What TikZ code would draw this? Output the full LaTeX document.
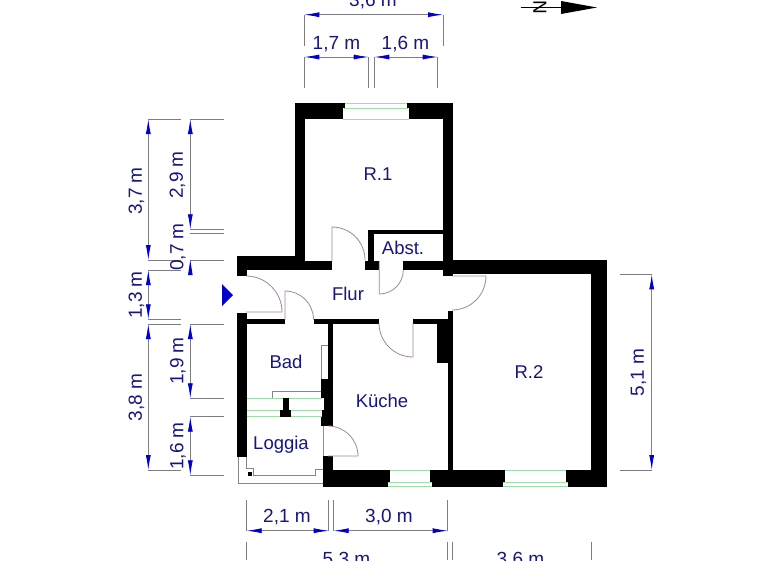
\documentclass[tikz,border=0pt]{standalone}
\usepackage{fontspec}
\setmainfont{Liberation Sans}
\usetikzlibrary{arrows.meta}
\definecolor{txt}{RGB}{22,22,125}
\definecolor{tip}{RGB}{0,0,205}
\definecolor{dimgrey}{RGB}{125,125,130}
\definecolor{doorc}{RGB}{160,135,160}
\definecolor{glass}{RGB}{160,220,170}
\definecolor{outl}{RGB}{135,135,135}
\tikzset{
  x=1pt,y=-1pt,
  wall/.style={fill=black,draw=none},
  doorline/.style={draw=doorc,line width=0.8pt},
  pane/.style={fill=white,draw=none},
  glassline/.style={draw=glass,line width=1pt},
  outline/.style={draw=outl,line width=0.8pt},
  ext/.style={draw=dimgrey,line width=0.8pt},
  dimline/.style={draw=dimgrey,line width=0.8pt,
    {Latex[length=15pt,width=5pt,color=tip]}-{Latex[length=15pt,width=5pt,color=tip]}},
  room/.style={text=txt,font=\fontsize{18.5}{18.5}\selectfont,inner sep=0pt},
  dimtext/.style={text=txt,font=\fontsize{19}{19}\selectfont,inner sep=0pt},
}
\newcommand{\hdimension}[5]{%
  \draw[ext] (#1,#4) -- (#1,#3);
  \draw[ext] (#2,#4) -- (#2,#3);
  \draw[dimline] (#1,#3) -- (#2,#3);
}
\newcommand{\vdimension}[4]{%
  \draw[ext] (#3,#1) -- (#4,#1);
  \draw[ext] (#3,#2) -- (#4,#2);
  \draw[dimline] (#3,#1) -- (#3,#2);
}
\begin{document}
\begin{tikzpicture}
\useasboundingbox (0,0) rectangle (768,560);
\clip (0,0) rectangle (768,560);
\fill[white] (0,0) rectangle (768,560);

% walls
\fill[wall] (295,103) rectangle (453,119);
\fill[wall] (295,103) rectangle (304.5,270);
\fill[wall] (442.7,103) rectangle (452.7,276);
\fill[wall] (237,256) rectangle (304.5,270);
\fill[wall] (237,256) rectangle (246.7,276);
\fill[wall] (304,260.7) rectangle (332,270);
\fill[wall] (365,260.7) rectangle (379.3,270);
\fill[wall] (368,230) rectangle (374,261);
\fill[wall] (368,230) rectangle (443,234);
\fill[wall] (403.3,260.7) rectangle (452,270);
\fill[wall] (447.7,260) rectangle (607,274);
\fill[wall] (591,260) rectangle (607,486.5);
\fill[wall] (447.7,310.5) rectangle (452.7,471);
\fill[wall] (413,319) rectangle (448,324.3);
\fill[wall] (437,319) rectangle (448,362.7);
\fill[wall] (237,312.7) rectangle (246.7,456.7);
\fill[wall] (246,319) rectangle (285,324.3);
\fill[wall] (313.5,319) rectangle (379,324.3);
\fill[wall] (328.3,324) rectangle (333.3,380);
\fill[wall] (321,379) rectangle (333.3,425.7);
\fill[wall] (323.3,456) rectangle (333.3,471);
\fill[wall] (323.3,470) rectangle (607,486.5);
\fill[wall] (282.7,398) rectangle (289,411);
\fill[wall] (280.3,410) rectangle (291,416.7);
\fill[wall] (248.3,472) rectangle (252.3,476);

% window R.1
\fill[pane] (345,103) rectangle (407,108.3);
\fill[pane] (342.7,108.3) rectangle (409,119);
\draw[glassline] (345,103.5) -- (407,103.5);
\draw[glassline] (344,108.3) -- (408,108.3);
\draw[glassline] (342.7,119) -- (409,119);
% window Kueche
\fill[pane] (390,470) rectangle (430,482.5);
\fill[pane] (388,482.5) rectangle (432,486.5);
\draw[glassline] (390,470) -- (430,470);
\draw[glassline] (388,482.7) -- (432,482.7);
\draw[glassline] (388,486.2) -- (432,486.2);
% window R.2
\fill[pane] (505,470) rectangle (565.7,482.5);
\fill[pane] (503,482.5) rectangle (567.7,486.5);
\draw[glassline] (505,470) -- (565.7,470);
\draw[glassline] (503,482.7) -- (567.7,482.7);
\draw[glassline] (503,486.2) -- (567.7,486.2);
% window Bad / Loggia
\fill[pane] (246.7,398) rectangle (282.7,410);
\fill[pane] (289,398) rectangle (324,410);
\fill[pane] (249,410) rectangle (280.3,416.7);
\fill[pane] (291,410) rectangle (322,416.7);
\draw[glassline] (247,398) -- (282.7,398) (289,398) -- (322,398);
\draw[glassline] (247,410) -- (280.3,410) (291,410) -- (322,410);
\draw[glassline] (247,416.3) -- (280.3,416.3) (291,416.3) -- (322,416.3);

% grey outlines
\draw[outline] (272.3,398) -- (272.3,391.3) -- (321,391.3);
\draw[outline] (321,379) -- (321,345) -- (328,345);
\draw[outline] (238.3,456.7) -- (238.3,483.3) -- (323.3,483.3);
\draw[outline] (246,456.7) -- (246,468) -- (253.3,468) -- (253.3,475.7) -- (315,475.7) -- (315,469) -- (323.3,469);
\draw[doorline] (323,425.7) -- (323,456);

% doors
\draw[doorline] (452,276) -- (486,276) arc[start angle=0,end angle=-90,radius=34pt];
\draw[doorline] (246,312) -- (282,312) arc[start angle=0,end angle=90,radius=36pt];
\draw[doorline] (285,320) -- (285,291) arc[start angle=90,end angle=0,radius=28.5pt];
\draw[doorline] (413,323) -- (413,357) arc[start angle=-90,end angle=-180,radius=34pt];
\draw[doorline] (379.3,261) -- (379.3,294) arc[start angle=-90,end angle=0,radius=24pt];
\draw[doorline] (332,261) -- (332,227) arc[start angle=90,end angle=0,radius=33pt];
\draw[doorline] (328,456) -- (358,456) arc[start angle=0,end angle=90,radius=30pt];

% entry marker
\fill[tip] (222,284) -- (233,295) -- (222,306) -- cycle;

% room labels
\node[room] (r1) at (378,174) {R.1};
\node[room] (abst) at (403,247.5) {Abst.};
\node[room] (flur) at (348,293.5) {Flur};
\node[room] (bad) at (286,361.5) {Bad};
\node[room] (kueche) at (382,400.5) {Küche};
\node[room] (loggia) at (281,444.5) {Loggia};
\node[room] (r2) at (529,372.5) {R.2};

% top dimensions
\hdimension{304.3}{443}{14.7}{45.7}{}
\hdimension{304.3}{368.7}{57}{87.7}{}
\hdimension{374.3}{437.7}{57}{87.7}{}
\node[dimtext] (t36) at (373,1) {3,6 m};
\node[dimtext] (t17) at (336.5,44) {1,7 m};
\node[dimtext] (t16) at (405.5,44) {1,6 m};

% bottom dimensions
\hdimension{246.7}{328.7}{530.7}{500}{}
\hdimension{333.7}{447.7}{530.7}{500}{}
\draw[ext] (246.7,541.7) -- (246.7,560);
\draw[ext] (447.7,541.7) -- (447.7,560);
\draw[ext] (452.3,541.7) -- (452.3,560);
\draw[ext] (591,541.7) -- (591,560);
\node[dimtext] (t21) at (287,517.5) {2,1 m};
\node[dimtext] (t30) at (389,517.5) {3,0 m};
\node[dimtext] (t53) at (346.5,560) {5,3 m};
\node[dimtext] (t36b) at (520.5,560) {3,6 m};

% left dimensions
\vdimension{119}{260}{148.3}{180.7}
\vdimension{270}{319.3}{148.3}{180.7}
\vdimension{324}{470}{148.3}{180.7}
\vdimension{119}{229.3}{190.3}{223.6}
\draw[ext] (190.3,233.3) -- (223.6,233.3);
\draw[ext] (190.3,260) -- (223.6,260);
\fill[tip] (190.3,260) -- (192.6,275) -- (188,275) -- cycle;
\vdimension{324}{398.3}{190.3}{223.6}
\vdimension{416.7}{475.3}{190.3}{223.6}
\node[dimtext,rotate=90] (t37) at (136.5,191) {3,7 m};
\node[dimtext,rotate=90] (t13) at (136.5,295) {1,3 m};
\node[dimtext,rotate=90] (t38) at (136.5,397.5) {3,8 m};
\node[dimtext,rotate=90] (t29) at (177.5,175) {2,9 m};
\node[dimtext,rotate=90] (t07) at (178,247) {0,7 m};
\node[dimtext,rotate=90] (t19) at (178,361) {1,9 m};
\node[dimtext,rotate=90] (t16b) at (178,446) {1,6 m};

% right dimension
\vdimension{274.3}{470}{651.7}{620}
\node[dimtext,rotate=90] (t51) at (638.5,372.5) {5,1 m};

% north arrow
\draw[black,line width=0.7pt] (520.7,7) -- (565,7);
\node[text=black,font=\fontsize{19}{19}\selectfont,inner sep=0pt,rotate=-90] (north) at (540,7.5) {N};
\fill[black] (561,1) -- (597,7.5) -- (561,14) -- cycle;
\end{tikzpicture}
\end{document}
